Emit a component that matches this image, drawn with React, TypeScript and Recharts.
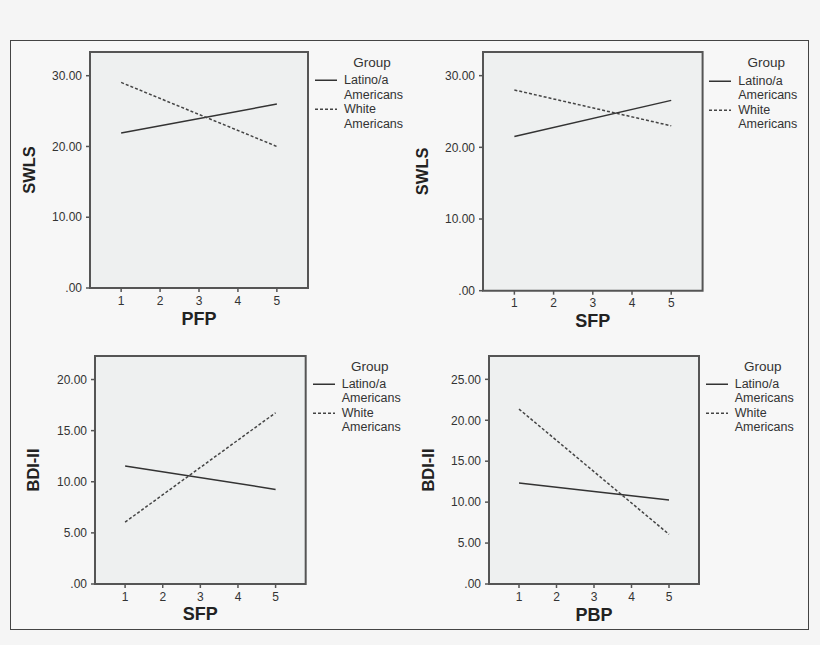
import React from 'react';
import { LineChart, Line, XAxis, YAxis, ReferenceArea, Legend } from 'recharts';

// x levels where the simple slopes were evaluated
const xLevels = [1, 5];
const xTicks = [1, 2, 3, 4, 5];

// SWLS by PFP
const pfpSwlsLatino = [21.9, 26.0];
const pfpSwlsWhite = [29.05, 20.0];
// SWLS by SFP
const sfpSwlsLatino = [21.5, 26.55];
const sfpSwlsWhite = [28.0, 23.0];
// BDI-II by SFP
const sfpBdiLatino = [11.55, 9.25];
const sfpBdiWhite = [6.05, 16.75];
// BDI-II by PBP
const pbpBdiLatino = [12.33, 10.26];
const pbpBdiWhite = [21.37, 6.07];

const swlsTicks = [0, 10, 20, 30];
const bdiSfpTicks = [0, 5, 10, 15, 20];
const bdiPbpTicks = [0, 5, 10, 15, 20, 25];

const groupNames = ['Latino/a Americans', 'White Americans'];

const FONT = '"Liberation Sans", Arial, sans-serif';
const Y_AXIS_W = 80;
const M_TOP = 30;
const X_AXIS_H = 50;
const LEGEND_W = 120;
const X_DOMAIN: [number, number] = [0.2, 5.8];

function buildRows(latino: number[], white: number[]) {
  return xLevels.map((x, i) => ({ x, latino: latino[i], white: white[i] }));
}

const fmtTick = (v: number) => (v === 0 ? '.00' : v.toFixed(2));

function yTitle(text: string) {
  return (props: any) => {
    const vb = props.viewBox || {};
    const cx = vb.x + 18.5;
    const cy = vb.y + vb.height / 2;
    return (
      <text
        x={cx}
        y={cy}
        transform={`rotate(-90 ${cx} ${cy})`}
        textAnchor="middle"
        dominantBaseline="central"
        fontFamily={FONT}
        fontWeight="bold"
        fontSize={16.5}
        fill="#222"
      >
        {text}
      </text>
    );
  };
}

function xTitle(text: string) {
  return (props: any) => {
    const vb = props.viewBox || {};
    return (
      <text
        x={vb.x + vb.width / 2}
        y={vb.y + 36.5}
        textAnchor="middle"
        fontFamily={FONT}
        fontWeight="bold"
        fontSize={18}
        fill="#222"
      >
        {text}
      </text>
    );
  };
}

function GroupLegend({ payload }: any) {
  const items = payload || [];
  return (
    <div style={{ fontFamily: FONT, fontSize: 12.5, color: '#333' }}>
      <div style={{ textAlign: 'center', lineHeight: '14px', height: 14, fontSize: 13.5 }}>Group</div>
      <div style={{ marginTop: 3.25 }}>
        {items.map((it: any, i: number) => {
          const label = String(it.value);
          const cut = label.indexOf(' ');
          const dash = it.payload?.strokeDasharray;
          return (
            <div key={i} style={{ display: 'flex', alignItems: 'flex-start' }}>
              <svg width={22} height={14.5} style={{ marginRight: 7, flex: 'none' }}>
                <line x1={0} x2={22} y1={7.25} y2={7.25} stroke={it.color} strokeWidth={1.5} strokeDasharray={dash} />
              </svg>
              <div style={{ lineHeight: '14.5px' }}>
                <div>{label.slice(0, cut)}</div>
                <div>{label.slice(cut + 1)}</div>
              </div>
            </div>
          );
        })}
      </div>
    </div>
  );
}

type PlotBox = { left: number; top: number; width: number; height: number };

function Panel({
  latino,
  white,
  yMax,
  yTicks,
  xLabel,
  yLabel,
  plot,
}: {
  latino: number[];
  white: number[];
  yMax: number;
  yTicks: number[];
  xLabel: string;
  yLabel: string;
  plot: PlotBox;
}) {
  const rows = buildRows(latino, white);
  const width = Y_AXIS_W + plot.width + LEGEND_W;
  const height = M_TOP + plot.height + X_AXIS_H;
  return (
    <div style={{ position: 'absolute', left: plot.left - Y_AXIS_W, top: plot.top - M_TOP }}>
      <LineChart
        width={width}
        height={height}
        data={rows}
        margin={{ top: M_TOP, right: LEGEND_W, bottom: 0, left: 0 }}
      >
        <ReferenceArea
          x1={X_DOMAIN[0]}
          x2={X_DOMAIN[1]}
          y1={0}
          y2={yMax}
          fill="#eef0f0"
          fillOpacity={1}
          stroke="#555"
          strokeWidth={2}
        />
        <XAxis
          type="number"
          dataKey="x"
          domain={X_DOMAIN}
          ticks={xTicks}
          axisLine={false}
          tickSize={4}
          tickMargin={4}
          tickLine={{ stroke: '#555', strokeWidth: 1.5 }}
          tick={{ fontSize: 12, fill: '#333', fontFamily: FONT }}
          height={X_AXIS_H}
          label={xTitle(xLabel)}
        />
        <YAxis
          type="number"
          domain={[0, yMax]}
          ticks={yTicks}
          tickFormatter={fmtTick}
          axisLine={false}
          tickSize={4}
          tickMargin={4}
          tickLine={{ stroke: '#555', strokeWidth: 1.5 }}
          tick={{ fontSize: 12, fill: '#333', fontFamily: FONT }}
          width={Y_AXIS_W}
          label={yTitle(yLabel)}
        />
        <Legend
          layout="vertical"
          align="center"
          verticalAlign="middle"
          content={<GroupLegend />}
          wrapperStyle={{ left: Y_AXIS_W + plot.width + 7, top: M_TOP + 4, width: 114 }}
        />
        <Line
          type="linear"
          dataKey="latino"
          name={groupNames[0]}
          stroke="#333"
          strokeWidth={1.5}
          dot={false}
          isAnimationActive={false}
        />
        <Line
          type="linear"
          dataKey="white"
          name={groupNames[1]}
          stroke="#444"
          strokeWidth={1.5}
          strokeDasharray="3 2"
          dot={false}
          isAnimationActive={false}
        />
      </LineChart>
    </div>
  );
}

export default function App() {
  return (
    <div
      style={{
        position: 'absolute',
        left: 0,
        top: 0,
        width: 820,
        height: 645,
        background: '#f5f5f5',
        overflow: 'hidden',
      }}
    >
      <div
        style={{
          position: 'absolute',
          left: 10,
          top: 40,
          width: 799,
          height: 590,
          boxSizing: 'border-box',
          border: '1.5px solid #444',
          background: '#f7f7f7',
        }}
      />
      <Panel
        latino={pfpSwlsLatino}
        white={pfpSwlsWhite}
        yMax={33.35}
        yTicks={swlsTicks}
        xLabel="PFP"
        yLabel="SWLS"
        plot={{ left: 90, top: 52, width: 218, height: 236 }}
      />
      <Panel
        latino={sfpSwlsLatino}
        white={sfpSwlsWhite}
        yMax={33.3}
        yTicks={swlsTicks}
        xLabel="SFP"
        yLabel="SWLS"
        plot={{ left: 482.7, top: 52.3, width: 219.6, height: 238.7 }}
      />
      <Panel
        latino={sfpBdiLatino}
        white={sfpBdiWhite}
        yMax={22.3}
        yTicks={bdiSfpTicks}
        xLabel="SFP"
        yLabel="BDI-II"
        plot={{ left: 95, top: 355.7, width: 210.7, height: 228 }}
      />
      <Panel
        latino={pbpBdiLatino}
        white={pbpBdiWhite}
        yMax={27.85}
        yTicks={bdiPbpTicks}
        xLabel="PBP"
        yLabel="BDI-II"
        plot={{ left: 488.7, top: 355.7, width: 210, height: 228 }}
      />
    </div>
  );
}
